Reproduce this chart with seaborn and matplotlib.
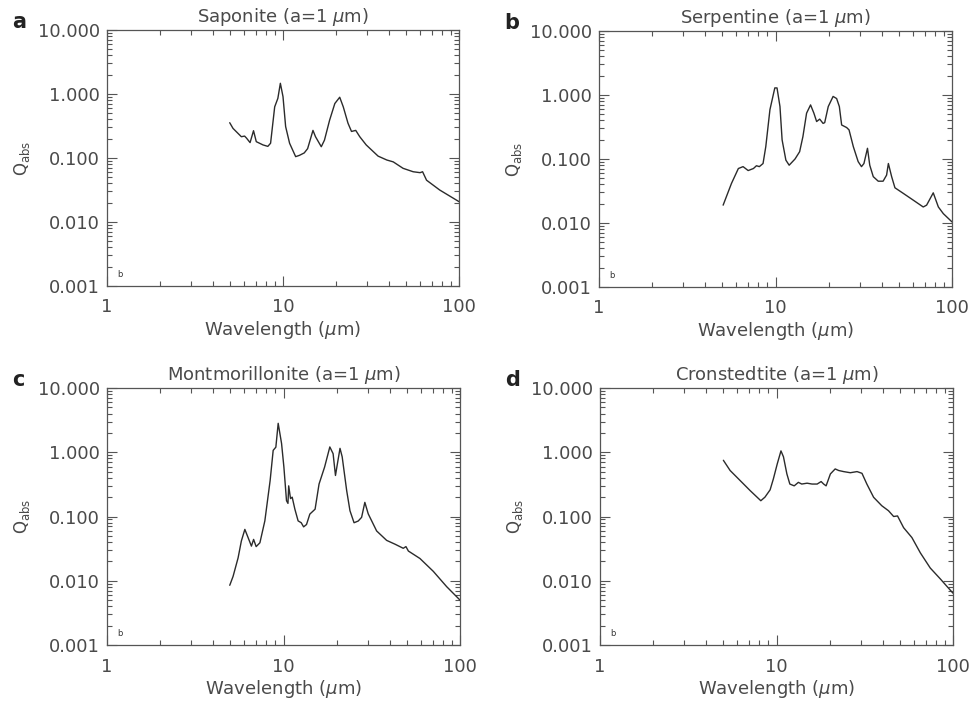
import numpy as np
import pandas as pd
import matplotlib
matplotlib.use("Agg")
import matplotlib.pyplot as plt
import seaborn as sns
from matplotlib.ticker import LogLocator, FixedLocator, FixedFormatter, NullFormatter

# ---- data ----
sap_x = [4.98, 5.2, 5.8, 6.05, 6.2, 6.5, 6.8, 7.05, 7.7, 8.2, 8.5, 8.97, 9.35, 9.66, 10.0, 10.35,
         10.9, 11.8, 12.4, 13.2, 13.8, 14.8, 15.3, 16.5, 17.2, 18.4, 19.7, 21.0, 22.0, 23.4, 24.5,
         25.9, 27.3, 29.7, 34.7, 38.9, 42.3, 48.1, 54.9, 60.1, 62.1, 65.4, 77.7, 100.0]
sap_y = [0.356, 0.29, 0.215, 0.22, 0.205, 0.174, 0.267, 0.18, 0.16, 0.152, 0.17, 0.63, 0.855, 1.47, 0.91, 0.31,
         0.17, 0.105, 0.11, 0.12, 0.14, 0.27, 0.215, 0.15, 0.19, 0.39, 0.71, 0.89, 0.63, 0.35, 0.26,
         0.27, 0.215, 0.16, 0.107, 0.093, 0.087, 0.069, 0.061, 0.059, 0.061, 0.045, 0.0316, 0.0208]

ser_x = [5.05, 5.63, 6.16, 6.55, 7.0, 7.5, 7.8, 8.1, 8.5, 8.81, 9.3, 9.91, 10.2, 10.6, 10.9, 11.45,
         11.95, 12.9, 13.7, 14.3, 15.0, 15.8, 16.5, 17.1, 17.8, 18.6, 19.0, 19.9, 21.2, 22.2, 23.0,
         23.7, 25.3, 26.1, 27.6, 29.4, 30.7, 31.7, 33.2, 34.2, 35.8, 38.2, 40.7, 42.6, 43.6, 45.5,
         47.5, 53.0, 60.4, 68.7, 71.8, 78.3, 83.7, 89.3, 100.0]
ser_y = [0.019, 0.0415, 0.071, 0.076, 0.066, 0.071, 0.0785, 0.076, 0.085, 0.156, 0.59, 1.29, 1.29, 0.66, 0.199, 0.096,
         0.08, 0.1, 0.13, 0.224, 0.52, 0.70, 0.52, 0.385, 0.42, 0.36, 0.37, 0.66, 0.95, 0.88, 0.66,
         0.34, 0.31, 0.285, 0.156, 0.091, 0.076, 0.085, 0.147, 0.08, 0.053, 0.045, 0.045, 0.056, 0.085, 0.053,
         0.0355, 0.029, 0.0227, 0.0178, 0.019, 0.0296, 0.0178, 0.014, 0.0104]

mon_x = [4.96, 5.18, 5.53, 5.77, 6.04, 6.3, 6.58, 6.77, 7.0, 7.35, 7.84, 8.4, 8.74, 9.05, 9.33, 9.75,
         10.05, 10.4, 10.6, 10.7, 10.96, 11.2, 11.6, 12.1, 12.6, 13.0, 13.5, 14.1, 15.1, 15.9, 17.1,
         18.3, 19.1, 19.7, 20.2, 20.9, 21.5, 22.8, 23.8, 25.1, 26.5, 27.7, 28.9, 30.2, 33.7, 38.4,
         42.9, 47.7, 49.4, 51.0, 59.3, 70.6, 84.0, 100.0]
mon_y = [0.0085, 0.0117, 0.0227, 0.0415, 0.063, 0.047, 0.0346, 0.044, 0.034, 0.039, 0.0855, 0.363, 1.07, 1.2, 2.82, 1.37,
         0.59, 0.176, 0.16, 0.30, 0.19, 0.2, 0.130, 0.0855, 0.08, 0.069, 0.075, 0.109, 0.13, 0.32, 0.59,
         1.21, 0.95, 0.435, 0.66, 1.15, 0.85, 0.253, 0.123, 0.08, 0.085, 0.097, 0.166, 0.11, 0.0596, 0.0425,
         0.037, 0.032, 0.034, 0.029, 0.0222, 0.014, 0.0081, 0.0050]

cro_x = [5.0, 5.46, 6.09, 7.09, 8.15, 8.6, 9.2, 9.6, 10.1, 10.6, 10.95, 11.45, 11.9, 12.6, 13.3, 13.9,
         14.9, 15.9, 17.0, 17.9, 18.5, 19.1, 20.2, 21.5, 22.5, 24.0, 26.2, 28.6, 30.5, 32.5, 35.5,
         39.5, 43.1, 46.1, 48.5, 52.5, 58.5, 65.3, 74.3, 84.7, 100.0]
cro_y = [0.75, 0.52, 0.385, 0.253, 0.176, 0.2, 0.26, 0.385, 0.66, 1.05, 0.85, 0.46, 0.32, 0.30, 0.34, 0.32,
         0.33, 0.32, 0.32, 0.35, 0.32, 0.30, 0.46, 0.55, 0.52, 0.50, 0.48, 0.50, 0.47, 0.32, 0.199,
         0.147, 0.123, 0.1, 0.102, 0.067, 0.047, 0.0272, 0.0158, 0.0107, 0.0064]

titles = ["Saponite (a=1 $\\mu$m)", "Serpentine (a=1 $\\mu$m)",
          "Montmorillonite (a=1 $\\mu$m)", "Cronstedtite (a=1 $\\mu$m)"]
letters = ["a", "b", "c", "d"]
series = [(sap_x, sap_y), (ser_x, ser_y), (mon_x, mon_y), (cro_x, cro_y)]
ytick_vals = [0.001, 0.01, 0.1, 1.0, 10.0]
ytick_labels = ["0.001", "0.010", "0.100", "1.000", "10.000"]
xtick_vals = [1, 10, 100]
xtick_labels = ["1", "10", "100"]

sns.set_style("ticks")
plt.rcParams['font.family'] = ['DejaVu Sans']
plt.rcParams['mathtext.fontset'] = 'dejavusans'

TXT = "#4a4a4a"
fig = plt.figure(figsize=(9.76, 7.08), dpi=100)
W, H = 976, 708
boxes = [(107, 30, 459, 286), (599, 31, 952, 287), (107, 388, 460, 645), (600, 388, 953, 645)]

for i, (b, (xs, ys)) in enumerate(zip(boxes, series)):
    l, t, r, bt = b
    ax = fig.add_axes([l / W, 1 - bt / H, (r - l) / W, (bt - t) / H])
    df = pd.DataFrame({"wl": xs, "q": ys})
    sns.lineplot(data=df, x="wl", y="q", ax=ax, color="#2b2b2b", linewidth=1.0, sort=False)
    ax.set_xscale("log")
    ax.set_yscale("log")
    ax.set_xlim(1, 100)
    ax.set_ylim(0.001, 10)
    ax.xaxis.set_major_locator(FixedLocator(xtick_vals))
    ax.xaxis.set_major_formatter(FixedFormatter(xtick_labels))
    ax.xaxis.set_minor_locator(LogLocator(base=10, subs=np.arange(2, 10)))
    ax.xaxis.set_minor_formatter(NullFormatter())
    ax.yaxis.set_major_locator(FixedLocator(ytick_vals))
    ax.yaxis.set_major_formatter(FixedFormatter(ytick_labels))
    ax.yaxis.set_minor_locator(LogLocator(base=10, subs=np.arange(2, 10), numticks=20))
    ax.yaxis.set_minor_formatter(NullFormatter())
    ax.tick_params(which="both", direction="in", top=True, right=True, colors="#555555",
                   labelcolor=TXT, width=0.8)
    ax.tick_params(which="major", length=7)
    ax.tick_params(which="minor", length=3.5)
    ax.tick_params(axis="x", which="major", labelsize=13, pad=9)
    ax.tick_params(axis="y", which="major", labelsize=13, pad=5)
    for s in ax.spines.values():
        s.set_color("#555555")
        s.set_linewidth(0.9)
    ax.set_xlabel("Wavelength ($\\mu$m)", fontsize=13, color=TXT, labelpad=2)
    ax.set_ylabel("Q$_{\\rm abs}$", fontsize=12, color=TXT, labelpad=4)
    ax.set_title(titles[i], fontsize=13, color=TXT, pad=6)
    ax.text(0.03, 0.035, "b", transform=ax.transAxes, fontsize=6, color="#333333")
    fig.text((l - 95) / W, 1 - (t - 8) / H, letters[i], fontsize=15, fontweight="bold",
             color="#222222", ha="left", va="center")

fig.savefig("out.png", dpi=100)
